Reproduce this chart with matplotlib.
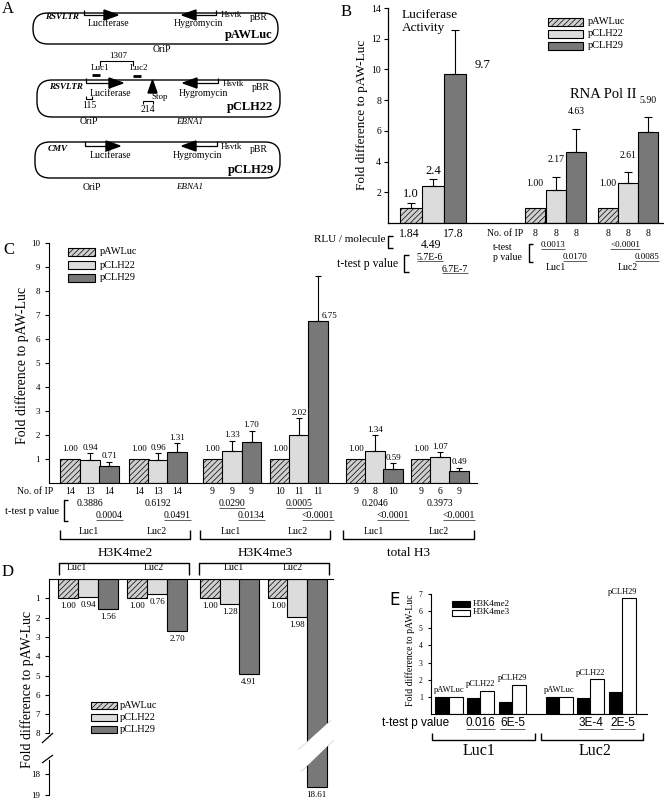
import numpy as np
import matplotlib
matplotlib.use('Agg')
import matplotlib.pyplot as plt
from matplotlib.patches import FancyBboxPatch, Polygon, Rectangle

plt.rcParams['font.family'] = ['Liberation Serif', 'DejaVu Serif']
plt.rcParams['hatch.linewidth'] = 0.5

W, H = 664, 802

# ---------------- data ----------------
plasmids = ['pAWLuc', 'pCLH22', 'pCLH29']

# B: luciferase activity / RNA Pol II
b_luc = [1.0, 2.4, 9.7]
b_luc_err = [0.29, 0.44, 2.9]
b_luc_lab = ['1.0', '2.4', '9.7']
b_rlu = ['1.84', '4.49', '17.8']
b_luc_p = ['5.7E-6', '6.7E-7']
b_pol_luc1 = [1.00, 2.17, 4.63]
b_pol_luc1_err = [0, 0.85, 1.52]
b_pol_luc2 = [1.00, 2.61, 5.90]
b_pol_luc2_err = [0, 0.69, 0.98]
b_pol_n = [8, 8, 8, 8, 8, 8]
b_pol_p1 = ['0.0013', '<0.0001']
b_pol_p2 = ['0.0170', '0.0085']

# C: ChIP of H3K4me2 / H3K4me3 / total H3 at Luc1, Luc2
c_groups = ['H3K4me2', 'H3K4me3', 'total H3']
c_vals = [[1.00, 0.94, 0.71], [1.00, 0.96, 1.31],
          [1.00, 1.33, 1.70], [1.00, 2.02, 6.75],
          [1.00, 1.34, 0.59], [1.00, 1.07, 0.49]]
c_err = [[0, 0.31, 0.18], [0, 0.29, 0.36],
         [0, 0.43, 0.48], [0, 0.68, 1.89],
         [0, 0.66, 0.24], [0, 0.22, 0.15]]
c_n = [[14, 13, 14], [14, 13, 14], [9, 9, 9],
       [10, 11, 11], [9, 8, 10], [9, 6, 9]]
c_p1 = ['0.3886', '0.6192', '0.0290', '0.0005', '0.2046', '0.3973']
c_p1_sig = [False, False, True, True, False, False]
c_p2 = ['0.0004', '0.0491', '0.0134', '<0.0001', '<0.0001', '<0.0001']

# D: normalised to total H3
d_vals = [[1.00, 0.94, 1.56], [1.00, 0.76, 2.70],
          [1.00, 1.28, 4.91], [1.00, 1.98, 18.61]]

# E: me2 vs me3
e_me2 = [1.00, 0.94, 0.71, 1.00, 0.96, 1.31]
e_me3 = [1.00, 1.33, 1.70, 1.00, 2.02, 6.75]
e_p = ['', '0.016', '6E-5', '', '3E-4', '2E-5']

# ---------------- figure ----------------
fig = plt.figure(figsize=(W / 100, H / 100), dpi=100)
ov = fig.add_axes([0, 0, 1, 1], zorder=10)
ov.set_xlim(0, W)
ov.set_ylim(H, 0)
ov.axis('off')
ov.patch.set_alpha(0)

underlined = []


def T(x, y, s, size=7, ha='center', va='center', ul=False, **kw):
    t = ov.text(x, y, s, fontsize=size, ha=ha, va=va, **kw)
    if ul:
        underlined.append(t)
    return t


def L(xs, ys, lw=0.9, color='black'):
    ov.plot(xs, ys, color=color, lw=lw, solid_capstyle='butt')


def add_ax(x0, y0, x1, y1):
    return fig.add_axes([x0 / W, 1 - y1 / H, (x1 - x0) / W, (y1 - y0) / H])


styles = [dict(facecolor='#cfcfcf', hatch='//////'),
          dict(facecolor='#dcdcdc'),
          dict(facecolor='#787878')]


def legend_box(x, y, w, h, st):
    ov.add_patch(Rectangle((x, y), w, h, edgecolor='black', lw=0.8, **st))


# ---------------- A ----------------
T(8, 9, 'A', 12)


def gene_right(xs, xe, ytop, ybar):
    L([xs, xs, xe - 13], [ytop, ybar, ybar])
    ov.add_patch(Polygon([(xe - 14, ybar - 5), (xe, ybar), (xe - 14, ybar + 5)],
                         closed=True, color='black'))


def gene_left(xs, xe, ytop, ybar):
    L([xs, xs, xe + 13], [ytop, ybar, ybar])
    ov.add_patch(Polygon([(xe + 14, ybar - 5), (xe, ybar), (xe + 14, ybar + 5)],
                         closed=True, color='black'))


boxes = [(33, 278, 13, 44), (37, 280, 80, 117), (35, 280, 142, 178)]
for x0, x1, y0, y1 in boxes:
    ov.add_patch(FancyBboxPatch((x0, y0), x1 - x0, y1 - y0,
                                boxstyle='round,pad=0,rounding_size=15',
                                fc='none', ec='black', lw=1))

# pAWLuc
gene_right(84, 118, 10, 15)
gene_left(216, 182, 10, 15)
T(62, 17, 'RSVLTR', 6.5, weight='bold', style='italic')
T(108, 24, 'Luciferase', 7)
T(198, 24, 'Hygromycin', 7)
T(231, 15, 'Hsvtk', 6.5)
T(259, 17, 'pBR', 7)
T(249, 35, 'pAWLuc', 9, weight='bold')
T(162, 50, 'OriP', 7)

# pCLH22
T(118, 56, '1307', 6.5)
L([100, 100, 133, 133], [66, 61, 61, 66], lw=0.8)
T(100, 68, 'Luc1', 6.5)
T(139, 68, 'Luc2', 6.5)
L([92, 100], [75, 75], lw=2)
L([133, 141], [76, 76], lw=2)
gene_right(86, 123, 78, 83)
gene_left(218, 183, 78, 83)
ov.add_patch(Polygon([(148, 93), (152.5, 80), (157, 93)], closed=True, color='black'))
T(66, 87, 'RSVLTR', 6.5, weight='bold', style='italic')
T(111, 93, 'Luciferase', 7)
T(160, 97, 'Stop', 6.5)
L([86, 86, 92, 92], [96, 99, 99, 96], lw=0.8)
T(89, 105, '115', 7)
L([143, 143, 153, 153], [104, 101, 101, 104], lw=0.8)
T(148, 110, '214', 7)
T(203, 93, 'Hygromycin', 7)
T(233, 84, 'Hsvtk', 6.5)
T(261, 88, 'pBR', 7)
T(250, 107, 'pCLH22', 9, weight='bold')
T(89, 122, 'OriP', 7)
T(190, 122, 'EBNA1', 6.5, style='italic')

# pCLH29
gene_right(85, 120, 141, 146)
gene_left(217, 182, 141, 146)
T(58, 149, 'CMV', 6.5, weight='bold', style='italic')
T(110, 156, 'Luciferase', 7)
T(197, 156, 'Hygromycin', 7)
T(231, 147, 'Hsvtk', 6.5)
T(259, 150, 'pBR', 7)
T(251, 170, 'pCLH29', 9, weight='bold')
T(92, 187, 'OriP', 7)
T(190, 187, 'EBNA1', 6.5, style='italic')

# ---------------- B ----------------
T(346, 12, 'B', 12)
axB = add_ax(388, 8, 664, 223)
axB.set_xlim(388, 664)
axB.set_ylim(0, 14)
b_luc_x = [411, 433, 455]
b_l1_x = [535, 556, 576]
b_l2_x = [608, 628, 648]
for xs, vals, errs, w in [(b_luc_x, b_luc, b_luc_err, 21.5),
                          (b_l1_x, b_pol_luc1, b_pol_luc1_err, 20.5),
                          (b_l2_x, b_pol_luc2, b_pol_luc2_err, 20.5)]:
    for i in range(3):
        axB.bar(xs[i], vals[i], w, edgecolor='black', lw=0.8, **styles[i])
        if errs[i] > 0:
            axB.errorbar(xs[i], vals[i], yerr=[[0], [errs[i]]], fmt='none',
                         ecolor='black', elinewidth=0.8, capsize=3, capthick=0.8)
for spn in ['top', 'right']:
    axB.spines[spn].set_visible(False)
axB.set_xticks([])
axB.set_yticks(range(2, 15, 2))
axB.tick_params(axis='y', direction='out', length=3, labelsize=7, width=0.8, pad=2)
axB.spines['left'].set_linewidth(0.9)
axB.spines['bottom'].set_linewidth(0.9)

for i in range(2):
    axB.annotate(b_luc_lab[i], (b_luc_x[i], b_luc[i] + b_luc_err[i]), xytext=(0, 2),
                 textcoords='offset points', ha='center', va='bottom', fontsize=9)
axB.annotate(b_luc_lab[2], (b_luc_x[2] + 10, b_luc[2]), xytext=(7, 2),
             textcoords='offset points', ha='left', va='bottom', fontsize=9)
for xs, vals, errs in [(b_l1_x, b_pol_luc1, b_pol_luc1_err),
                       (b_l2_x, b_pol_luc2, b_pol_luc2_err)]:
    for i in range(3):
        off = 9 if errs[i] > 0 else 14
        axB.annotate('%.2f' % vals[i], (xs[i], vals[i] + errs[i]), xytext=(0, off),
                     textcoords='offset points', ha='center', va='bottom', fontsize=7)

T(402, 15, 'Luciferase', 9.5, ha='left')
T(402, 28, 'Activity', 9.5, ha='left')
T(603, 95, 'RNA Pol II', 10.5)
for i in range(3):
    legend_box(548, 18 + 12 * i, 35, 8, styles[i])
    T(588, 22 + 12 * i, plasmids[i], 7.5, ha='left')
T(362, 115, 'Fold difference to pAW-Luc', 9.5, rotation=90)

# table under B
T(385, 240, 'RLU / molecule', 8, ha='right')
L([393, 388, 388, 393], [236, 236, 248, 248], lw=1)
T(b_luc_x[0] - 2, 234, b_rlu[0], 8.5)
T(b_luc_x[1] - 2, 245, b_rlu[1], 8.5)
T(b_luc_x[2] - 2, 234, b_rlu[2], 8.5)
T(398, 264, 't-test p value', 8.5, ha='right')
L([409, 404, 404, 409], [255, 255, 272, 272], lw=1)
T(430, 257, b_luc_p[0], 7, ul=True)
T(455, 269, b_luc_p[1], 7, ul=True)

T(523, 234, 'No. of IP', 7, ha='right')
for i, x in enumerate(b_l1_x + b_l2_x):
    T(x, 234, str(b_pol_n[i]), 7)
T(493, 247, 't-test', 7, ha='left')
T(493, 257, 'p value', 7, ha='left')
L([533, 529, 529, 533], [244, 244, 262, 262], lw=1)
for j, xs in enumerate([b_l1_x, b_l2_x]):
    T(xs[1] - 3, 245, b_pol_p1[j], 6.5, ul=True)
    T(xs[2] - 1, 257, b_pol_p2[j], 6.5, ul=True)
    T(xs[1], 268, ['Luc1', 'Luc2'][j], 7)

# ---------------- C ----------------
T(9, 250, 'C', 12)
axC = add_ax(49, 243, 477, 483)
axC.set_xlim(49, 477)
axC.set_ylim(0, 10)
c_x = [[70, 90, 109], [139, 158, 177], [212.5, 232, 251.5],
       [280, 299, 318], [356, 375, 393], [421, 440, 459]]
for g in range(6):
    for i in range(3):
        x, v, e = c_x[g][i], c_vals[g][i], c_err[g][i]
        axC.bar(x, v, 19.5, edgecolor='black', lw=0.8, **styles[i])
        if e > 0:
            axC.errorbar(x, v, yerr=[[0], [e]], fmt='none', ecolor='black',
                         elinewidth=0.8, capsize=2.5, capthick=0.8)
        if e > 1:
            axC.annotate('%.2f' % v, (x, v), xytext=(8, 1), textcoords='offset points',
                         ha='center', va='bottom', fontsize=6.5)
        else:
            axC.annotate('%.2f' % v, (x, v + e), xytext=(0, 1 if e > 0 else 4),
                         textcoords='offset points', ha='center', va='bottom', fontsize=6.5)
for spn in ['top', 'right']:
    axC.spines[spn].set_visible(False)
axC.set_xticks([])
axC.set_yticks(range(1, 11))
axC.tick_params(axis='y', direction='out', length=3, labelsize=6.5, width=0.8)
for i in range(3):
    legend_box(68, 248 + 13 * i, 27, 8, styles[i])
    T(100, 252 + 13 * i, plasmids[i], 7.5, ha='left')
T(22, 365, 'Fold difference to pAW-Luc', 10, rotation=90)

T(53, 492, 'No. of IP', 7, ha='right')
for g in range(6):
    for i in range(3):
        T(c_x[g][i], 492, str(c_n[g][i]), 7)
    T(c_x[g][1], 504, c_p1[g], 7, ul=c_p1_sig[g])
    T(c_x[g][2], 516, c_p2[g], 7, ul=True)
T(59, 511, 't-test p value', 7.5, ha='right')
L([68, 64, 64, 68], [500, 500, 521, 521], lw=1)
for k, (x0, x1) in enumerate([(60, 190), (200, 330), (343, 474)]):
    L([x0, x0, x1, x1], [530, 539, 539, 530], lw=1)
    T(c_x[2 * k][1] - 1, 532, 'Luc1', 7)
    T(c_x[2 * k + 1][1] - 1, 532, 'Luc2', 7)
    T((x0 + x1) / 2, 553, c_groups[k], 9.5)

# ---------------- D ----------------
T(8, 572, 'D', 12)
d_x = [[68, 88, 108], [137, 157, 177], [210, 230, 249], [278, 297, 316.5]]
axD1 = add_ax(49, 579, 333, 745)
axD2 = add_ax(49, 745, 333, 797)
axD1.set_ylim(8.6, 0)
axD2.set_ylim(19.1, 16.59)
for ax in (axD1, axD2):
    ax.set_xlim(49, 333)
    ax.patch.set_alpha(0)
    for g in range(4):
        for i in range(3):
            ax.bar(d_x[g][i], d_vals[g][i], 20, edgecolor='black', lw=0.8, **styles[i])
    ax.set_xticks([])
    ax.spines['right'].set_visible(False)
    ax.spines['bottom'].set_visible(False)
    ax.tick_params(axis='y', direction='out', length=3, labelsize=6.5, width=0.8)
axD2.spines['top'].set_visible(False)
axD1.spines['left'].set_bounds(0, 8)
axD2.spines['left'].set_bounds(17.3, 19)
axD1.set_yticks(range(1, 9))
axD2.set_yticks([18, 19])
for g in range(4):
    for i in range(3):
        v = d_vals[g][i]
        ax = axD2 if v > 8.6 else axD1
        ax.annotate('%.2f' % v, (d_x[g][i], v), xytext=(0, -3), textcoords='offset points',
                    ha='center', va='top', fontsize=6.5)
# axis and bar breaks
L([42, 53], [743, 733], lw=0.9)
L([42, 53], [763, 755], lw=0.9)
ov.add_patch(Polygon([(299, 750), (331, 721), (333, 740), (301, 771)],
                     closed=True, color='white', zorder=3))
L([299, 331], [750, 721], lw=0.9)
L([301, 333], [771, 740], lw=0.9)

for k, (x0, x1) in enumerate([(59, 189), (199, 329)]):
    L([x0, x0, x1, x1], [575, 563, 563, 575], lw=1)
    T([77, 234][k], 568, 'Luc1', 7)
    T([154, 293][k], 568, 'Luc2', 7)
for i in range(3):
    legend_box(91, 702 + 12 * i, 26, 7, styles[i])
    T(120, 705.5 + 12 * i, plasmids[i], 7.5, ha='left')
T(27, 690, 'Fold difference to pAW-Luc', 10, rotation=90)

# ---------------- E ----------------
T(395, 600, 'E', 12, family='DejaVu Sans')
axE = add_ax(431, 594, 647, 714)
axE.set_xlim(431, 647)
axE.set_ylim(0, 7)
e_black_x = [442, 474, 506, 553, 584, 616]
e_white_x = [456, 487, 519, 566, 597, 629]
for i in range(6):
    axE.bar(e_black_x[i], e_me2[i], 13.5, color='black', edgecolor='black', lw=0.8)
    axE.bar(e_white_x[i], e_me3[i], 13.5, color='white', edgecolor='black', lw=0.8)
    top = max(e_me2[i], e_me3[i])
    axE.annotate(plasmids[i % 3], ((e_black_x[i] + e_white_x[i]) / 2, top),
                 xytext=(0, 2), textcoords='offset points', ha='center', va='bottom',
                 fontsize=6)
for spn in ['top', 'right']:
    axE.spines[spn].set_visible(False)
axE.set_xticks([])
axE.set_yticks(range(1, 8))
axE.tick_params(axis='y', direction='out', length=2.5, labelsize=5.5, width=0.8)
ov.add_patch(Rectangle((452, 601), 18, 6, facecolor='black', edgecolor='black', lw=0.8))
ov.add_patch(Rectangle((452, 610), 18, 6, facecolor='white', edgecolor='black', lw=0.8))
T(473, 603.5, 'H3K4me2', 6.5, ha='left')
T(473, 612.5, 'H3K4me3', 6.5, ha='left')
T(410, 650, 'Fold difference to pAW-Luc', 7, rotation=90)

T(449, 723, 't-test p value', 8.5, ha='right', family='Liberation Sans')
for i in range(6):
    if e_p[i]:
        T((e_black_x[i] + e_white_x[i]) / 2, 723, e_p[i], 8.5, ul=True,
          family='Liberation Sans')
for k, (x0, x1) in enumerate([(432, 535), (541, 643)]):
    L([x0, x0, x1, x1], [733, 740, 740, 733], lw=1)
    T((x0 + x1) / 2 - 4 + 7 * k, 751, ['Luc1', 'Luc2'][k], 11.5)

# underlines
renderer = fig.canvas.get_renderer()
inv = ov.transData.inverted()
for t in underlined:
    bb = t.get_window_extent(renderer)
    (ux0, uy0) = inv.transform((bb.x0, bb.y0))
    (ux1, _) = inv.transform((bb.x1, bb.y0))
    L([ux0, ux1], [uy0 - 0.5, uy0 - 0.5], lw=0.6, color='#444444')

fig.savefig('out.png', dpi=100)
